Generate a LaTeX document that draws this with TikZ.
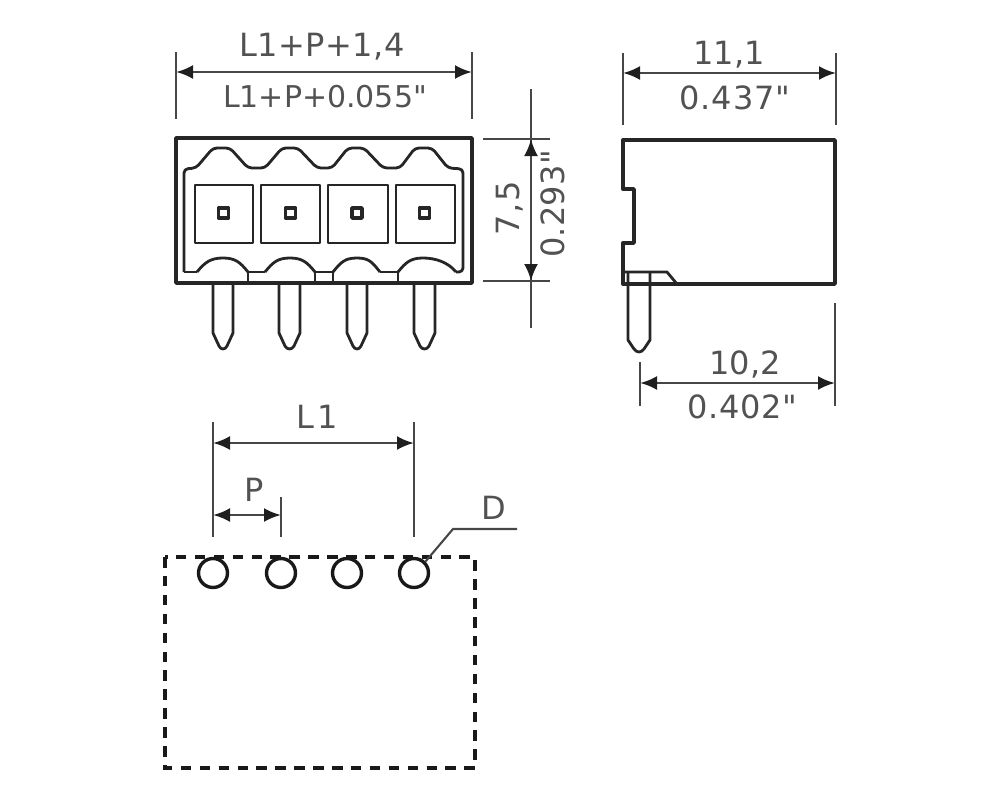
\documentclass[tikz,border=0pt]{standalone}
\usepackage{fontspec}
\newfontfamily\lab{DejaVu Sans}
\usetikzlibrary{arrows.meta}
\tikzset{
 body/.style={draw=black!85,line width=3.4pt,line join=round},
 thin body/.style={draw=black!85,line width=2.8pt,line join=round},
 ext/.style={draw=black!72,line width=2.1pt},
 dim/.style={draw=black!72,line width=2.6pt,{Latex[length=17pt,width=14pt,black!88]}-{Latex[length=17pt,width=14pt,black!88]}},
 label/.style={inner sep=0pt,text=black!68,font=\lab\fontsize{32}{32}\selectfont},
 hidden/.style={draw=black!90,line width=3.4pt,dash pattern=on 10.5pt off 8.4pt}
}
\begin{document}
\begin{tikzpicture}[x=1pt,y=-1pt]
\useasboundingbox (0,0) rectangle (1000,800);
% front view
\draw[body] (176,138) rectangle (472,283);
\draw[thin body,rounded corners=4pt] (184,272) -- (184,169) -- (196,168) -- (213,148) -- (230,148) -- (248,168) -- (265,168) -- (282,148) -- (298,148) -- (317,168) -- (332,168) -- (348,148) -- (364,148) -- (383,168) -- (400,168) -- (415,148) -- (432,148) -- (448,168) -- (463,169) -- (463,272) -- (456,272);
\draw[thin body] (184,272) -- (197,272);
\foreach \a/\c/\b in {197/223/248,265/290/315,333/357/380,398/423/456}{
 \draw[thin body] (\a,272) .. controls (\a+8,262) and (\c-12,258) .. (\c,258) .. controls (\c+12,258) and (\b-8,262) .. (\b,272);
}
\draw[thin body] (248,272) -- (265,272) (315,272) -- (333,272) (380,272) -- (398,272);
\draw[thin body] (248,272) -- (248,283) (315,272) -- (315,283) (333,272) -- (333,283) (398,272) -- (398,283);
\foreach \l/\r in {195/253,261/320,328/388,396/455}{
 \draw[thin body] (\l,185) rectangle (\r,243);
}
\foreach \c in {223.5,290.5,357,424.5}{
 \draw[body] (\c-5,208) rectangle (\c+5,218);
}
\foreach \l/\r in {213/233,279/300,347/367,414/435}{
 \draw[thin body] (\l,283) -- (\l,333) -- (\l+6,346) .. controls (\l+8,350) and (\r-8,350) .. (\r-6,346) -- (\r,333) -- (\r,283);
}
% side view
\draw[body] (623,140) -- (835,140) -- (835,284) -- (623,284) -- (623,243) -- (634,243) -- (634,189) -- (623,189) -- cycle;
\draw[thin body] (623,272) -- (667,272) -- (677,284);
\draw[thin body] (628,272) -- (628,340) -- (634,349) .. controls (637,353) and (641,353) .. (644,349) -- (650,340) -- (650,272);
% named anchors for the dimensions
\coordinate (a1) at (176,52); \coordinate (a2) at (176,119);
\coordinate (b1) at (472,52); \coordinate (b2) at (472,119);
\coordinate (a) at (176,72); \coordinate (b) at (472,72);
\coordinate (c1) at (623,53); \coordinate (c2) at (623,125);
\coordinate (d1) at (836,53); \coordinate (d2) at (836,125);
\coordinate (c) at (623,73); \coordinate (d) at (836,73);
\coordinate (e1) at (640,362); \coordinate (e2) at (640,406);
\coordinate (f1) at (835,303); \coordinate (f2) at (835,406);
\coordinate (e) at (640,383); \coordinate (f) at (835,383);
\coordinate (g1) at (483,139); \coordinate (g2) at (550,139);
\coordinate (h1) at (483,281); \coordinate (h2) at (550,281);
\coordinate (v1) at (531,89); \coordinate (g) at (531,139);
\coordinate (h) at (531,281); \coordinate (v2) at (531,328);
\coordinate (i1) at (213,422); \coordinate (i2) at (213,537);
\coordinate (j1) at (414,422); \coordinate (j2) at (414,537);
\coordinate (i) at (213,443); \coordinate (j) at (414,443);
\coordinate (k1) at (281,497); \coordinate (k2) at (281,537);
\coordinate (m) at (213,515); \coordinate (k) at (281,515);
\draw[ext] (a1) -- (a2); \draw[ext] (b1) -- (b2); \draw[dim] (a) -- (b);
\draw[ext] (c1) -- (c2); \draw[ext] (d1) -- (d2); \draw[dim] (c) -- (d);
\draw[ext] (e1) -- (e2); \draw[ext] (f1) -- (f2); \draw[dim] (e) -- (f);
\draw[ext] (g1) -- (g2); \draw[ext] (h1) -- (h2);
\draw[ext] (v1) -- (v2); \draw[dim] (g) -- (h);
\draw[ext] (i1) -- (i2); \draw[ext] (j1) -- (j2); \draw[dim] (i) -- (j);
\draw[ext] (k1) -- (k2); \draw[dim] (m) -- (k);
% labels
\node[label] (t1) at (322,47) {\addfontfeature{LetterSpace=1.5}L1+P+1,4};
\node[label,font=\lab\fontsize{30}{30}\selectfont] (t2) at (325,97) {L1+P+0.055"};
\node[label] (t3) at (729,55) {11,1};
\node[label] (t4) at (735,98) {\addfontfeature{LetterSpace=2.5}0.437"};
\node[label] (t5) at (745,364) {10,2};
\node[label] (t6) at (742,407) {\addfontfeature{LetterSpace=2}0.402"};
\node[label,rotate=90] (t7) at (510,208) {\addfontfeature{LetterSpace=5}7,5};
\node[label,rotate=90] (t8) at (553,204) {\addfontfeature{LetterSpace=1}0.293"};
\node[label] (t9) at (317,417) {\addfontfeature{LetterSpace=10}L1};
\node[label] (t10) at (254,490) {P};
\node[label] (t11) at (494,508) {D};
% footprint
\draw[hidden] (165,557) rectangle (475,768);
\foreach \c [count=\n] in {213,281,347,414}{
 \node[draw=black!90,line width=3.4pt,circle,minimum size=29pt,inner sep=0pt] (h\n) at (\c,573) {};
}
\coordinate (l1) at (453,529); \coordinate (l2) at (517,529);
\draw[ext] (h4.north east) -- (l1) -- (l2);
\end{tikzpicture}
\end{document}
